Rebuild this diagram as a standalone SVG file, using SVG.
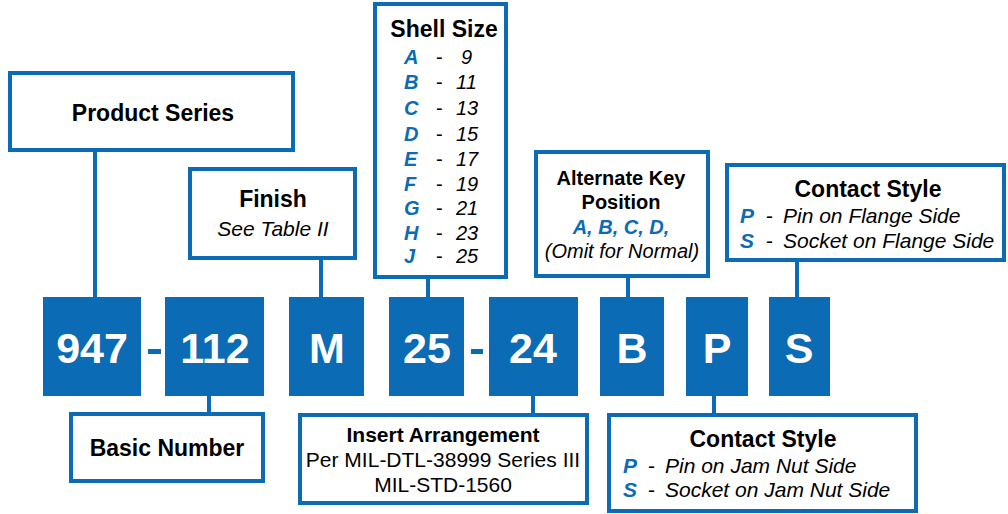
<svg xmlns="http://www.w3.org/2000/svg" width="1008" height="514" viewBox="0 0 1008 514">
<style>
.box{fill:#fff;stroke:#0B6BB5;stroke-width:4}
.blk{fill:#0B6BB5}
.con{stroke:#0B6BB5;stroke-width:4;fill:none}
text{font-family:"Liberation Sans",Arial,sans-serif;fill:#000}
.h{font-weight:bold;font-size:23px;text-anchor:middle}
.h2{font-weight:bold;font-size:20px;text-anchor:middle}
.h3{font-weight:bold;font-size:21px;text-anchor:middle}
.it{font-style:italic;font-size:21px}
.n{font-size:21px;text-anchor:middle}
.bl{fill:#0B6BB5;font-weight:bold;font-style:italic}
.big{font-weight:bold;font-size:43px;fill:#fff;text-anchor:middle}
</style>
<rect width="1008" height="514" fill="#fff"/>
<g id="connectors">
<line class="con" x1="95" y1="152" x2="95" y2="297"/>
<line class="con" x1="321" y1="260" x2="321" y2="297"/>
<line class="con" x1="428" y1="278" x2="428" y2="297"/>
<line class="con" x1="628" y1="277" x2="628" y2="297"/>
<line class="con" x1="797" y1="261" x2="797" y2="297"/>
<line class="con" x1="209" y1="396" x2="209" y2="413"/>
<line class="con" x1="533" y1="396" x2="533" y2="414"/>
<line class="con" x1="714" y1="396" x2="714" y2="414"/>
</g>
<g id="product-series">
<rect class="box" x="10" y="73" width="283" height="77"/>
<text class="h" x="153" y="121">Product Series</text>
</g>
<g id="finish">
<rect class="box" x="190" y="169" width="165" height="89"/>
<text class="h" x="273" y="207">Finish</text>
<text class="it" x="273" y="236" text-anchor="middle">See Table II</text>
</g>
<g id="shell-size">
<rect class="box" x="375" y="4" width="131" height="273"/>
<text class="h" x="444" y="37" font-size="23.5px">Shell Size</text>
<g font-size="20px">
<text class="bl" x="404" y="64">A</text><text x="436" y="64">-</text><text font-style="italic" x="461" y="64">9</text>
<text class="bl" x="404" y="89">B</text><text x="436" y="89">-</text><text font-style="italic" x="456" y="89">11</text>
<text class="bl" x="404" y="115">C</text><text x="436" y="115">-</text><text font-style="italic" x="456" y="115">13</text>
<text class="bl" x="404" y="141">D</text><text x="436" y="141">-</text><text font-style="italic" x="456" y="141">15</text>
<text class="bl" x="404" y="166">E</text><text x="436" y="166">-</text><text font-style="italic" x="456" y="166">17</text>
<text class="bl" x="404" y="191">F</text><text x="436" y="191">-</text><text font-style="italic" x="456" y="191">19</text>
<text class="bl" x="404" y="215">G</text><text x="436" y="215">-</text><text font-style="italic" x="456" y="215">21</text>
<text class="bl" x="404" y="240">H</text><text x="436" y="240">-</text><text font-style="italic" x="456" y="240">23</text>
<text class="bl" x="404" y="263">J</text><text x="436" y="263">-</text><text font-style="italic" x="456" y="263">25</text>
</g>
</g>
<g id="alternate-key">
<rect class="box" x="536" y="152" width="172" height="124"/>
<text class="h2" x="621" y="185">Alternate Key</text>
<text class="h2" x="621" y="209">Position</text>
<text class="bl" x="621" y="234" font-size="20px" text-anchor="middle">A, B, C, D,</text>
<text font-style="italic" font-size="20px" x="622" y="258" text-anchor="middle">(Omit for Normal)</text>
</g>
<g id="contact-style-flange">
<rect class="box" x="727" y="165" width="277" height="95"/>
<text class="h" x="868" y="197">Contact Style</text>
<text class="bl" x="740" y="223" font-size="21px">P</text><text x="766" y="223" font-size="21px">-</text><text class="it" x="783" y="223">Pin on Flange Side</text>
<text class="bl" x="740" y="248" font-size="21px">S</text><text x="766" y="248" font-size="21px">-</text><text class="it" x="783" y="248">Socket on Flange Side</text>
</g>
<g id="code-947"><rect class="blk" x="43" y="297" width="98" height="99"/><text class="big" x="92" y="363">947</text></g>
<g id="dash-1"><rect class="blk" x="148" y="349" width="13" height="5"/></g>
<g id="code-112"><rect class="blk" x="165" y="297" width="99" height="99"/><text class="big" x="215" y="363">112</text></g>
<g id="code-M"><rect class="blk" x="289" y="297" width="75" height="99"/><text class="big" x="327" y="363">M</text></g>
<g id="code-25"><rect class="blk" x="389" y="297" width="75" height="99"/><text class="big" x="427" y="363">25</text></g>
<g id="dash-2"><rect class="blk" x="471" y="349" width="12" height="5"/></g>
<g id="code-24"><rect class="blk" x="489" y="297" width="89" height="99"/><text class="big" x="533" y="363">24</text></g>
<g id="code-B"><rect class="blk" x="600" y="297" width="64" height="99"/><text class="big" x="632" y="363">B</text></g>
<g id="code-P"><rect class="blk" x="686" y="297" width="62" height="99"/><text class="big" x="717" y="363">P</text></g>
<g id="code-S"><rect class="blk" x="769" y="297" width="61" height="99"/><text class="big" x="799" y="363">S</text></g>
<g id="basic-number">
<rect class="box" x="71" y="414" width="192" height="67"/>
<text class="h" x="167" y="456">Basic Number</text>
</g>
<g id="insert-arrangement">
<rect class="box" x="300" y="415" width="287" height="88"/>
<text class="h3" x="443" y="442">Insert Arrangement</text>
<text class="n" x="443" y="467">Per MIL-DTL-38999 Series III</text>
<text class="n" x="443" y="492">MIL-STD-1560</text>
</g>
<g id="contact-style-jam-nut">
<rect class="box" x="609" y="415" width="307" height="96"/>
<text class="h" x="763" y="447">Contact Style</text>
<text class="bl" x="623" y="473" font-size="21px">P</text><text x="648" y="473" font-size="21px">-</text><text class="it" x="665" y="473">Pin on Jam Nut Side</text>
<text class="bl" x="623" y="497" font-size="21px">S</text><text x="648" y="497" font-size="21px">-</text><text class="it" x="665" y="497">Socket on Jam Nut Side</text>
</g>
</svg>
